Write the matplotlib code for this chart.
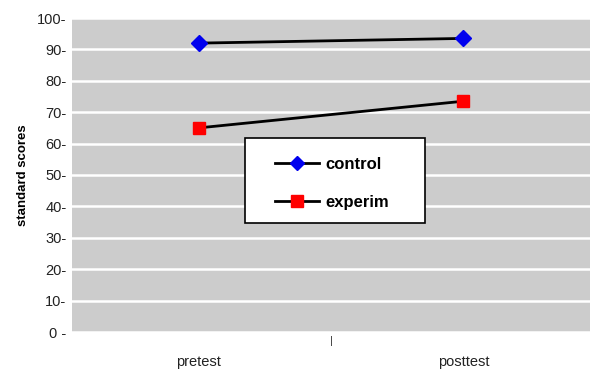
import matplotlib
matplotlib.use("Agg")
import matplotlib.pyplot as plt
from matplotlib.patches import Rectangle

categories = ["pretest", "posttest"]
control = [92.0, 93.5]
experim = [65.0, 73.5]
yticks = [0, 10, 20, 30, 40, 50, 60, 70, 80, 90, 100]
ytick_labels = ["0 -", "10-", "20-", "30-", "40-", "50-", "60-", "70-", "80-", "90-", "100-"]

plt.rcParams['font.family'] = ['Liberation Sans', 'DejaVu Sans']

W, H = 590, 374
fig = plt.figure(figsize=(W/100, H/100), dpi=100)
L, R, T, B = 72, 590, 18, 332
ax = fig.add_axes([L/W, 1-B/H, (R-L)/W, (B-T)/H])
ax.set_facecolor('#cccccc')
x = list(range(len(categories)))
ax.plot(x, control, color='black', lw=2, marker='D', markersize=8,
        markerfacecolor='#0000ee', markeredgecolor='#0000ee', label='control', zorder=3)
ax.plot(x, experim, color='black', lw=2, marker='s', markersize=9,
        markerfacecolor='#ff0000', markeredgecolor='#ff0000', label='experim', zorder=3)

ax.set_ylim(0, 100)
ax.set_xlim(-0.478, 1.478)
ax.set_yticks(yticks)
ax.set_yticklabels(ytick_labels, fontsize=10.5, color='#222222')
ax.tick_params(axis='y', length=0, pad=4)
ax.yaxis.grid(True, color='white', lw=1.8)
ax.set_axisbelow(True)
for s in ax.spines.values():
    s.set_visible(False)

ax.set_xticks([0.5])
ax.set_xticklabels(['|'], fontsize=8, color='#333333')
ax.tick_params(axis='x', length=0, pad=3)
for xi, c in zip(x, categories):
    ax.annotate(c, xy=(xi, 0), xycoords='data', xytext=(0, -30*0.72), textcoords='offset points',
                ha='center', va='center', fontsize=10.5, color='#222222')

ax.set_ylabel('standard scores', fontsize=9.5, fontweight='bold', labelpad=6)

# legend box
def ax_frac(px, py):
    return (px - L) / (R - L), (B - py) / (B - T)

bx0, by0 = ax_frac(245, 223)
bx1, by1 = ax_frac(425, 138)
ax.add_patch(Rectangle((bx0, by0), bx1 - bx0, by1 - by0, transform=ax.transAxes,
                       facecolor='white', edgecolor='black', lw=1.2, zorder=4))
ax_, ay_ = ax_frac(275, 157)
leg = ax.legend(loc='upper left', bbox_to_anchor=(ax_, ay_), frameon=False,
                prop={'weight': 'bold', 'size': 12}, handlelength=2.65,
                borderpad=0, labelspacing=1.37, borderaxespad=0, handletextpad=0.4)
leg.set_zorder(5)
leg.legend_handles[0].set_markersize(7)
leg.legend_handles[1].set_markersize(9)

fig.savefig('out.png', dpi=100)
